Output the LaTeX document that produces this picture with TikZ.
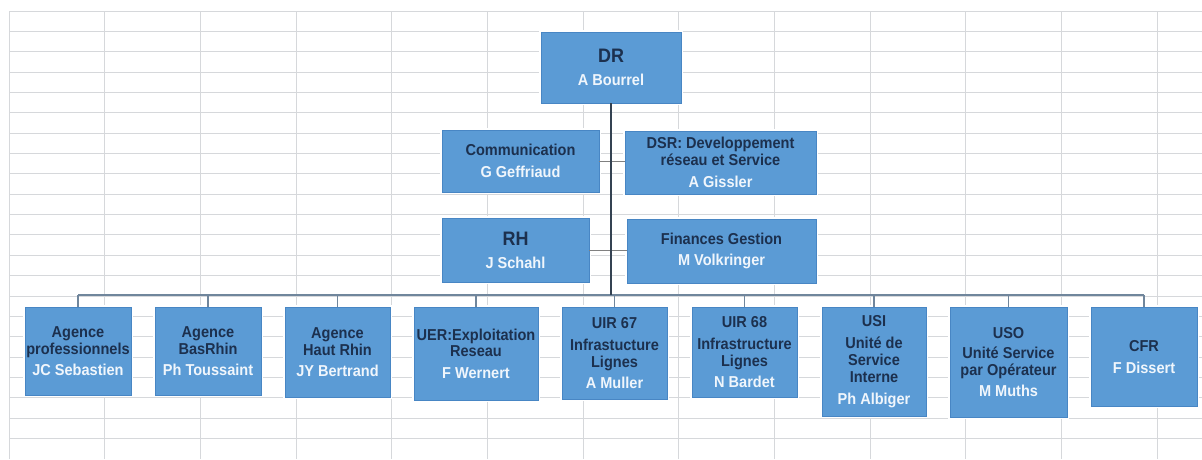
\documentclass[tikz,border=0pt]{standalone}
\usepackage{fontspec}
\setmainfont{Liberation Sans}[FakeStretch=0.92]
\usepackage{tikz}
\definecolor{boxblue}{RGB}{91,155,213}
\definecolor{boxedge}{RGB}{72,134,196}
\definecolor{navy}{RGB}{28,48,78}
\definecolor{namecol}{RGB}{240,246,252}
\definecolor{gridgray}{RGB}{214,216,219}
\definecolor{trunkcol}{RGB}{52,66,82}
\definecolor{buscol}{RGB}{112,134,156}
\tikzset{unit/.style={draw=boxedge, fill=boxblue, preaction={draw=white, line width=4pt},
    text=navy, align=center, inner sep=0pt,
    font=\bfseries\fontsize{15.8}{16.8}\selectfont},
  top/.style={unit, anchor=north}}
\newcommand{\who}[1]{\\[5pt]\textcolor{namecol}{#1}}
\newcommand{\bigtitle}[1]{{\fontsize{19.5}{22}\selectfont #1}}

\begin{document}
\begin{tikzpicture}[x=1pt, y=-1pt]
\useasboundingbox[fill=white] (0,0) rectangle (1202,459);
% spreadsheet grid
\foreach \k in {0,...,21} \draw[gridgray, line width=1pt] (9,11+20.36*\k) -- (1202,11+20.36*\k);
\foreach \k in {0,...,12} \draw[gridgray, line width=1pt] (9+95.68*\k,11) -- (9+95.68*\k,459);

% direction
\node[unit, minimum width=140pt, minimum height=71pt] (dr) at (611,67.5) {\bigtitle{DR}\\[6pt]\textcolor{namecol}{A Bourrel}};
\node[unit, minimum width=157pt, minimum height=62pt] (comm) at (520.5,161) {Communication\who{G Geffriaud}};
\node[unit, minimum width=191pt, minimum height=63pt] (dsr) at (720.5,162.5) {DSR: Developpement\\r\'eseau et Service\who{A Gissler}};
\node[unit, minimum width=147pt, minimum height=64pt] (rh) at (515.5,250) {\bigtitle{RH}\\[6pt]\textcolor{namecol}{J Schahl}};
\node[unit, minimum width=189pt, minimum height=64pt] (fin) at (721.5,251) {Finances Gestion\who{M Volkringer}};

% units
\node[top, minimum width=106pt, minimum height=88pt] (agpro) at (78,307) {Agence\\professionnels\who{JC Sebastien}};
\node[top, minimum width=106pt, minimum height=88pt] (basrhin) at (208,307) {Agence\\BasRhin\who{Ph Toussaint}};
\node[top, minimum width=105pt, minimum height=90pt] (hautrhin) at (337.5,307) {Agence\\Haut Rhin\who{JY Bertrand}};
\node[top, minimum width=124pt, minimum height=93pt] (uer) at (476,307) {UER:Exploitation\\Reseau\who{F Wernert}};
\node[top, minimum width=105pt, minimum height=92pt] (uirA) at (614.5,307) {UIR 67\\[5pt]Infrastucture\\Lignes\who{A Muller}};
\node[top, minimum width=105pt, minimum height=90pt] (uirB) at (744.5,307) {UIR 68\\[5pt]Infrastructure\\Lignes\who{N Bardet}};
\node[top, minimum width=104pt, minimum height=109pt] (usi) at (874,307) {USI\\[5pt]Unit\'e de\\Service\\Interne\who{Ph Albiger}};
\node[top, minimum width=117pt, minimum height=110pt] (uso) at (1008.5,307) {USO\\[3pt]Unit\'e Service\\par Op\'erateur\who{M Muths}};
\node[top, minimum width=106pt, minimum height=99pt] (cfr) at (1144,307) {CFR\who{F Dissert}};

% links
\coordinate (bus) at (612,295);
\draw[gray, line width=1pt] (comm.east) -- (comm.east -| dsr.west);
\draw[gray, line width=1pt] (rh.east) -- (rh.east -| fin.west);
\draw[buscol, line width=1.8pt] (agpro.north |- bus) -- (cfr.north |- bus);
\foreach \n in {agpro,basrhin,hautrhin,uer,uirA,uirB,usi,uso,cfr}
  \draw[buscol, line width=1.8pt] (\n.north) -- (\n.north |- bus);
\draw[trunkcol, line width=1.6pt] (dr.south) -- (dr.south |- bus);
\end{tikzpicture}
\end{document}
